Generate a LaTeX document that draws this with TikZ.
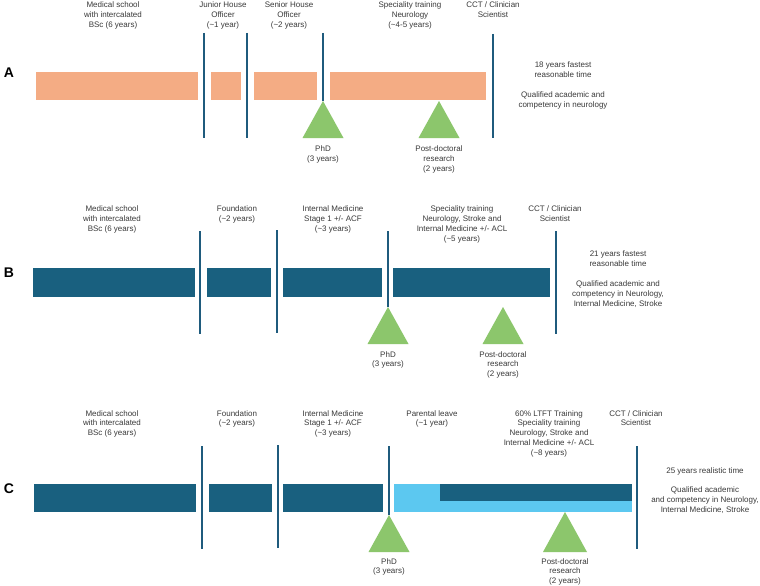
\documentclass[tikz,border=0pt]{standalone}
\usepackage{fontspec}
\setmainfont{Liberation Sans}
\usepackage{tikz}
\definecolor{salmonbar}{HTML}{F4AC84}
\definecolor{tealbar}{HTML}{19607F}
\definecolor{skybar}{HTML}{5CC8F0}
\definecolor{divline}{HTML}{1F5B7D}
\definecolor{phdgreen}{HTML}{8CC66C}
\definecolor{txtgrey}{HTML}{3A3A3A}
\newcommand{\milestone}[2]{\fill[phdgreen] (#1,#2) -- ++(20.5,37) -- ++(-41,0) -- cycle;}

\begin{document}
\begin{tikzpicture}[x=1pt, y=-1pt,
    lbl/.style={align=center, inner sep=0pt, anchor=north, text=txtgrey, font=\fontsize{8}{9.8}\selectfont},
    panel/.style={inner sep=0pt, font=\fontsize{14}{16}\selectfont\bfseries},
    divider/.style={draw=divline, line width=1.6pt}]
    \useasboundingbox[fill=white] (0,0) rectangle (760,586);

    % Panel A
    \node[panel] (A) at (9,73) {A};
    \fill[salmonbar] (36,72) rectangle (198,100);
    \fill[salmonbar] (211,72) rectangle (241,100);
    \fill[salmonbar] (254,72) rectangle (317,100);
    \fill[salmonbar] (330,72) rectangle (486,100);
    \draw[divider] (204,33) -- (204,138);
    \draw[divider] (247,33) -- (247,138);
    \draw[divider] (323,33) -- (323,101);
    \draw[divider] (493,34) -- (493,138);
    \milestone{323}{101}
    \milestone{439}{101}
    \node[lbl] (medA) at (113,2) {Medical school\\with intercalated\\BSc (6 years)};
    \node[lbl] (jho) at (223,2) {Junior House\\Officer\\(\textasciitilde1 year)};
    \node[lbl] (sho) at (289,2) {Senior House\\Officer\\(\textasciitilde2 years)};
    \node[lbl] (specA) at (410,2) {Speciality training\\Neurology\\(\textasciitilde4-5 years)};
    \node[lbl] (cctA) at (493,2) {CCT / Clinician\\Scientist};
    \node[lbl] (phdA) at (323,146) {PhD\\(3 years)};
    \node[lbl] (postA) at (439,146) {Post-doctoral\\research\\(2 years)};
    \node[lbl] (sumA) at (563,62) {18 years fastest\\reasonable time\\[10pt]Qualified academic and\\competency in neurology};

    % Panel B
    \node[panel] (B) at (9,273) {B};
    \fill[tealbar] (33,268) rectangle (195,297);
    \fill[tealbar] (207,268) rectangle (271,297);
    \fill[tealbar] (283,268) rectangle (382,297);
    \fill[tealbar] (393,268) rectangle (550,297);
    \draw[divider] (200,231) -- (200,334);
    \draw[divider] (277,230) -- (277,333);
    \draw[divider] (388,231) -- (388,307);
    \draw[divider] (556,231) -- (556,334);
    \milestone{388}{307}
    \milestone{503}{307}
    \node[lbl] (medB) at (112,206) {Medical school\\with intercalated\\BSc (6 years)};
    \node[lbl] (fdnB) at (237,206) {Foundation\\(\textasciitilde2 years)};
    \node[lbl] (imB) at (333,206) {Internal Medicine\\Stage 1 +/- ACF\\(\textasciitilde3 years)};
    \node[lbl] (specB) at (462,206) {Speciality training\\Neurology, Stroke and\\Internal Medicine +/- ACL\\(\textasciitilde5 years)};
    \node[lbl] (cctB) at (555,206) {CCT / Clinician\\Scientist};
    \node[lbl] (phdB) at (388,351) {PhD\\(3 years)};
    \node[lbl] (postB) at (503,351) {Post-doctoral\\research\\(2 years)};
    \node[lbl] (sumB) at (618,251) {21 years fastest\\reasonable time\\[10pt]Qualified academic and\\competency in Neurology,\\Internal Medicine, Stroke};

    % Panel C
    \node[panel] (C) at (9,489) {C};
    \fill[tealbar] (34,484) rectangle (196,512);
    \fill[tealbar] (209,484) rectangle (272,512);
    \fill[tealbar] (283,484) rectangle (383,512);
    \fill[skybar] (394,484) rectangle (632,512);
    \fill[tealbar] (440,484) rectangle (632,501);
    \draw[divider] (202,446) -- (202,549);
    \draw[divider] (278,445) -- (278,548);
    \draw[divider] (389,446) -- (389,515);
    \draw[divider] (637,446) -- (637,549);
    \milestone{389}{515}
    \fill[phdgreen] (565,512) -- (587,552) -- (543,552) -- cycle;
    \node[lbl] (medC) at (112,410) {Medical school\\with intercalated\\BSc (6 years)};
    \node[lbl] (fdnC) at (237,410) {Foundation\\(\textasciitilde2 years)};
    \node[lbl] (imC) at (333,410) {Internal Medicine\\Stage 1 +/- ACF\\(\textasciitilde3 years)};
    \node[lbl] (leave) at (432,410) {Parental leave\\(\textasciitilde1 year)};
    \node[lbl] (specC) at (549,410) {60\% LTFT Training\\Speciality training\\Neurology, Stroke and\\Internal Medicine +/- ACL\\(\textasciitilde8 years)};
    \node[lbl] (cctC) at (636,410) {CCT / Clinician\\Scientist};
    \node[lbl] (phdC) at (389,558) {PhD\\(3 years)};
    \node[lbl] (postC) at (565,558) {Post-doctoral\\research\\(2 years)};
    \node[lbl] (sumC) at (705,467) {25 years realistic time\\[10pt]Qualified academic\\and competency in Neurology,\\Internal Medicine, Stroke};
\end{tikzpicture}
\end{document}
